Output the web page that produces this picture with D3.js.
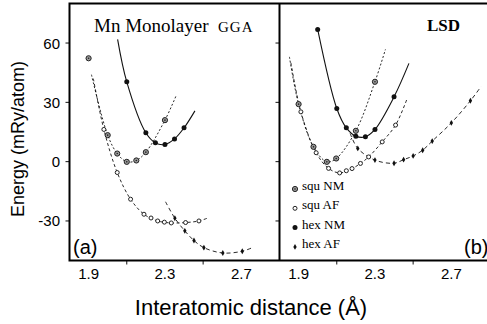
<!DOCTYPE html>
<html>
<head>
<meta charset="utf-8">
<script src="https://cdn.jsdelivr.net/npm/d3@7"></script>
<style>
  body { margin: 0; background: #fff; }
  svg { display: block; }
</style>
</head>
<body>
<svg id="chart"></svg>
<script>
// values: [distance (A), energy (mRy/atom)]
const ggaSquNM = [[1.9, 52.3], [2.0, 13.4], [2.05, 4.1], [2.1, -0.1], [2.15, 0.6], [2.2, 4.8], [2.3, 21.0]];
const ggaSquAF = [[1.98, 16.3], [2.05, -5.5], [2.12, -19], [2.19, -26.6], [2.227, -28.5], [2.262, -30], [2.297, -30.6], [2.333, -31], [2.408, -30.8], [2.478, -30]];
const ggaHexNM = [[2.1, 40.4], [2.2, 14.6], [2.25, 9.5], [2.3, 8.7], [2.35, 11.5], [2.4, 17.1]];
const ggaHexAF = [[2.352, -28.6], [2.404, -35], [2.452, -39.9], [2.504, -43.5], [2.603, -46.2], [2.705, -45.3]];

const lsdSquNM = [[1.9, 29.1], [1.978, 7.5], [2.048, -0.1], [2.097, 1.6], [2.2, 15.6], [2.3, 40.4]];
const lsdSquAF = [[1.912, 25.2], [1.992, 4.5], [2.057, -3.4], [2.115, -5.7], [2.15, -4.6], [2.18, -3.5], [2.224, -0.9], [2.267, 2.4], [2.338, 10], [2.408, 18.5]];
const lsdHexNM = [[2.0, 66.9], [2.1, 26.9], [2.15, 17.1], [2.2, 12.9], [2.25, 12.6], [2.3, 16.3], [2.4, 32.8]];
const lsdHexAF = [[2.21, 6.7], [2.3, 0.8], [2.4, -0.8], [2.45, 1.0], [2.5, 2.9], [2.55, 5.8], [2.6, 10.4], [2.7, 19.6], [2.8, 30.8]];

// fitted curves
const ggaSquNMFit = [[1.915, 44], [2.0, 13.4], [2.05, 4.1], [2.1, -0.1], [2.15, 0.6], [2.2, 4.8], [2.3, 21.0], [2.36, 33.7]];
const ggaSquAFFit = [[1.925, 42], [1.98, 16.3], [2.05, -5.5], [2.12, -19], [2.19, -26.6], [2.262, -30], [2.333, -31], [2.408, -30.8], [2.478, -30], [2.53, -28.3]];
const ggaHexNMFit = [[2.052, 61.9], [2.1, 40.4], [2.2, 14.6], [2.25, 9.5], [2.3, 8.7], [2.35, 11.5], [2.4, 17.1], [2.457, 25.7]];
const ggaHexAFFit = [[2.303, -20.3], [2.352, -28.6], [2.404, -35], [2.452, -39.9], [2.504, -43.5], [2.603, -46.2], [2.705, -45.3], [2.76, -43.4]];

const lsdSquNMFit = [[1.852, 53], [1.9, 29.1], [1.978, 7.5], [2.048, -0.1], [2.097, 1.6], [2.2, 15.6], [2.3, 40.4], [2.355, 56.8]];
const lsdSquAFFit = [[1.86, 50], [1.912, 25.2], [1.992, 4.5], [2.057, -3.4], [2.115, -5.7], [2.18, -3.5], [2.224, -0.9], [2.267, 2.4], [2.338, 10], [2.408, 18.5], [2.469, 32]];
const lsdHexNMFit = [[2.0, 66.9], [2.1, 26.9], [2.15, 17.1], [2.2, 12.9], [2.25, 12.6], [2.3, 16.3], [2.4, 32.8], [2.478, 49.7]];
const lsdHexAFFit = [[2.17, 14.3], [2.21, 6.7], [2.3, 0.8], [2.4, -0.8], [2.45, 1.0], [2.5, 2.9], [2.55, 5.8], [2.6, 10.4], [2.7, 19.6], [2.8, 30.8], [2.855, 37.9]];

const legendLabels = ["squ NM", "squ AF", "hex NM", "hex AF"];
const yTicks = [60, 30, 0, -30];
const xTicksLabelled = [1.9, 2.3, 2.7];
const xTicksMinor = [2.1, 2.5];

const width = 487, height = 324;
const svg = d3.select("#chart").attr("width", width).attr("height", height);

const y = d3.scaleLinear().domain([-50, 80]).range([260.5, 3.5]);
const xa = d3.scaleLinear().domain([1.8, 2.9]).range([69.5, 279.5]);
const xb = d3.scaleLinear().domain([1.8, 2.9]).range([279.5, 489.5]);

const dashes = { "squ NM": "2,2", "squ AF": "3,2.5", "hex NM": null, "hex AF": "4,3" };

function marker(g, type, cx, cy) {
  if (type == "squ NM") {
    g.append("circle").attr("cx", cx).attr("cy", cy).attr("r", 2.6)
      .attr("fill", "#999").attr("stroke", "#222").attr("stroke-width", 1);
    g.append("circle").attr("cx", cx).attr("cy", cy).attr("r", 0.8).attr("fill", "#222");
  } else if (type == "squ AF") {
    g.append("circle").attr("cx", cx).attr("cy", cy).attr("r", 2)
      .attr("fill", "#fff").attr("stroke", "#222").attr("stroke-width", 1);
  } else if (type == "hex NM") {
    g.append("circle").attr("cx", cx).attr("cy", cy).attr("r", 2.5).attr("fill", "#111");
  } else {
    g.append("path").attr("transform", `translate(${cx},${cy})`)
      .attr("d", d3.symbol().type(d3.symbolDiamond).size(10)()).attr("fill", "#111");
  }
}

function panel(x, series) {
  const g = svg.append("g");
  const line = d3.line()
    .x(d => x(d[0]))
    .y(d => y(d[1]))
    .curve(d3.curveCatmullRom.alpha(0.5));

  series.forEach(s => {
    g.append("path")
      .attr("d", line(s.fit))
      .attr("fill", "none")
      .attr("stroke", "#111")
      .attr("stroke-width", s.name == "hex NM" ? 1.1 : 0.9)
      .attr("stroke-dasharray", dashes[s.name]);
  });
  series.forEach(s => {
    s.values.forEach(d => marker(g, s.name, x(d[0]), y(d[1])));
  });

  // axis ticks
  g.selectAll(".xt").data(xTicksMinor).enter().append("line")
    .attr("x1", d => x(d)).attr("x2", d => x(d))
    .attr("y1", 260.5).attr("y2", 264.5)
    .attr("stroke", "#111").attr("stroke-width", 1);
  g.selectAll(".xl").data(xTicksLabelled).enter().append("text")
    .attr("x", d => x(d)).attr("y", 279)
    .attr("text-anchor", "middle")
    .attr("font-family", "Liberation Sans, Arial, sans-serif")
    .attr("font-size", 15)
    .text(d => d3.format(".1f")(d));
  g.selectAll(".yt").data(yTicks).enter().append("line")
    .attr("x1", x(1.8) - 4).attr("x2", x(1.8))
    .attr("y1", d => y(d)).attr("y2", d => y(d))
    .attr("stroke", "#111").attr("stroke-width", 1);
  return g;
}

const names = legendLabels;
panel(xa, [
  { name: names[0], values: ggaSquNM, fit: ggaSquNMFit },
  { name: names[1], values: ggaSquAF, fit: ggaSquAFFit },
  { name: names[2], values: ggaHexNM, fit: ggaHexNMFit },
  { name: names[3], values: ggaHexAF, fit: ggaHexAFFit }
]);
panel(xb, [
  { name: names[0], values: lsdSquNM, fit: lsdSquNMFit },
  { name: names[1], values: lsdSquAF, fit: lsdSquAFFit },
  { name: names[2], values: lsdHexNM, fit: lsdHexNMFit },
  { name: names[3], values: lsdHexAF, fit: lsdHexAFFit }
]);

// frame
svg.append("path")
  .attr("d", `M${xa(1.8)},${y(-50)}V${y(80)}H${width}M${xb(1.8)},${y(-50)}V${y(80)}M${xa(1.8) - 1},${y(-50)}H${width}`)
  .attr("fill", "none").attr("stroke", "#000").attr("stroke-width", 2);

svg.selectAll(".yl").data(yTicks).enter().append("text")
  .attr("x", 60).attr("y", d => y(d) + 5.5)
  .attr("text-anchor", "end")
  .attr("font-family", "Liberation Sans, Arial, sans-serif")
  .attr("font-size", 15)
  .text(d => d);

svg.append("text")
  .attr("transform", "translate(24,139) rotate(-90)")
  .attr("text-anchor", "middle")
  .attr("font-family", "Liberation Sans, Arial, sans-serif")
  .attr("font-size", 18)
  .text("Energy (mRy/atom)");

svg.append("text")
  .attr("x", 251).attr("y", 315)
  .attr("text-anchor", "middle")
  .attr("font-family", "Liberation Sans, Arial, sans-serif")
  .attr("font-size", 22)
  .text("Interatomic distance (Å)");

const serif = "Liberation Serif, Times New Roman, serif";
svg.append("text").attr("x", 94).attr("y", 32)
  .attr("font-family", serif).attr("font-size", 19).text("Mn Monolayer");
svg.append("text").attr("x", 218).attr("y", 32)
  .attr("font-family", serif).attr("font-size", 15).attr("letter-spacing", 1).text("GGA");
svg.append("text").attr("x", 427).attr("y", 31)
  .attr("font-family", serif).attr("font-size", 17).attr("font-weight", "bold").text("LSD");

svg.append("text").attr("x", 73).attr("y", 254)
  .attr("font-family", "Liberation Sans, Arial, sans-serif").attr("font-size", 20).text("(a)");
svg.append("text").attr("x", 464).attr("y", 254)
  .attr("font-family", "Liberation Sans, Arial, sans-serif").attr("font-size", 20).text("(b)");

// legend
const legend = svg.append("g");
legendLabels.forEach((name, i) => {
  const ly = 189 + i * 19.3;
  marker(legend, name, 295, ly);
  legend.append("text")
    .attr("x", 302).attr("y", ly + 1)
    .attr("font-family", serif).attr("font-size", 13)
    .text(name);
});
</script>
</body>
</html>
